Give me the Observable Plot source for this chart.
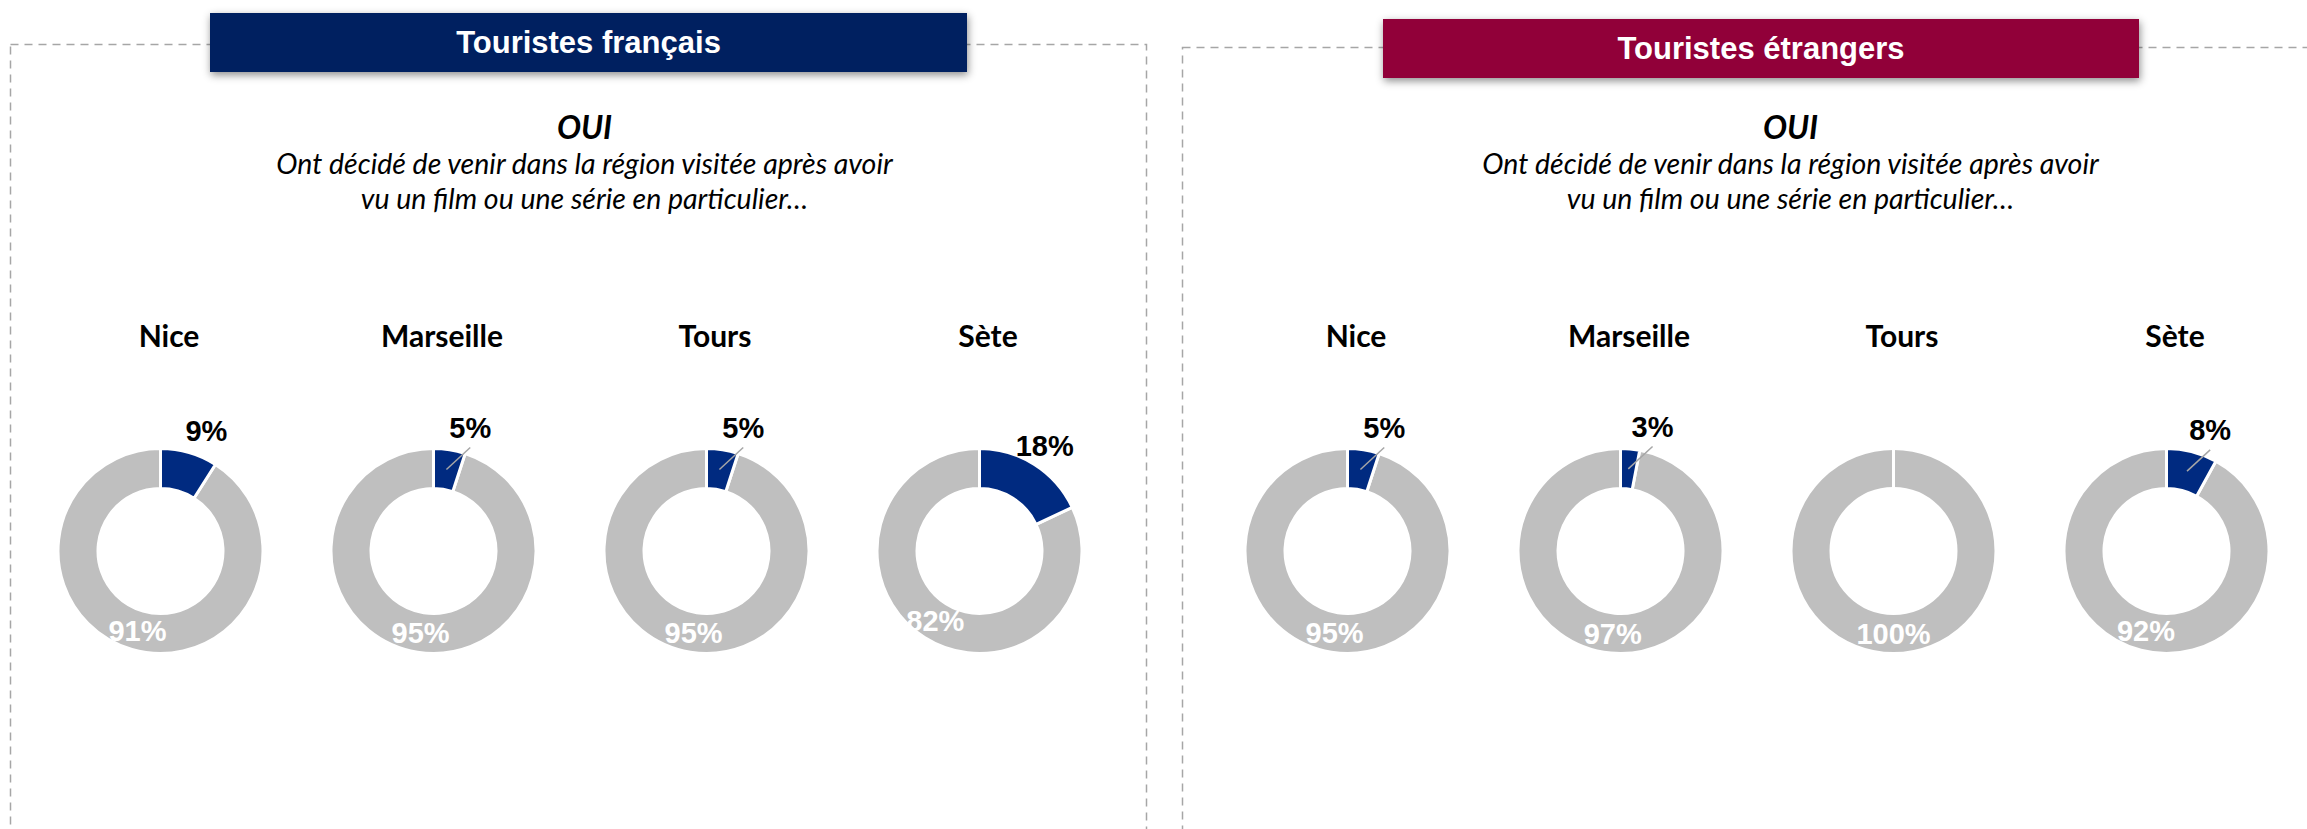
<!DOCTYPE html>
<html><head><meta charset="utf-8">
<script src="https://cdn.jsdelivr.net/npm/d3@7"></script>
<script src="https://cdn.jsdelivr.net/npm/@observablehq/plot@0.6"></script>
<style>
html,body{margin:0;padding:0;background:#fff;}
#chart{position:relative;width:2307px;height:829px;overflow:hidden;background:#fff;}
.panel{position:absolute;top:0;}
.panel svg{overflow:hidden;display:block;max-width:none;}
.head{position:absolute;height:59px;text-align:center;color:#fff;font:bold 31px "Liberation Sans",Arial,sans-serif;line-height:59px;box-shadow:1px 3px 8px rgba(0,0,0,0.45);}
</style></head><body>
<div id="chart">
  <div class="panel" id="p0" style="left:0"></div>
  <div class="panel" id="p1" style="left:1164px"></div>
  <div class="head" id="h0" style="left:210px;top:13px;width:757px;background:#002060"></div>
  <div class="head" id="h1" style="left:1383px;top:19px;width:756px;background:#910039"></div>
</div>
<script>
// ---- data ----
const panels = ["Touristes français", "Touristes étrangers"];
const cities = ["Nice", "Marseille", "Tours", "Sète"];
const ouiFrancais = [9, 5, 5, 18];
const nonFrancais = [91, 95, 95, 82];
const ouiEtrangers = [5, 3, 0, 8];
const nonEtrangers = [95, 97, 100, 92];
const heading = "OUI";
const subtitle = "Ont décidé de venir dans la région visitée après avoir\nvu un film ou une série en particulier…";

// ---- styles / layout ----
const colors = {oui: "#002A80", non: "#BFBFBF"};
const R_OUT = 102.5, R_IN = 62.5, R_MID = 82.5, R_LAB = 125;
const calibriLike = "Lato, 'Open Sans', sans-serif";
const arialLike = "'Liberation Sans', Arial, sans-serif";
const layout = [
  {width: 1164, marginLeft: 23, marginRight: 47, marginTop: 44, boxInsetLeft: -13, boxInsetRight: -29, textDx: 14, ouiDy: 84, subDy: 136, cityDy: 293, donutDy: 507},
  {width: 1143, marginLeft: 46, marginRight: 3, marginTop: 47, boxInsetLeft: -28, boxInsetRight: -20, textDx: 33, ouiDy: 81, subDy: 133, cityDy: 290, donutDy: 504}
];

function donutRender(rows, L) {
  return (index, scales, values, dimensions) => {
    const {width, marginLeft, marginRight, marginTop} = dimensions;
    const half = scales.x.bandwidth ? scales.x.bandwidth() / 2 : (width - marginLeft - marginRight) / cities.length / 2;
    const cy = marginTop + L.donutDy;
    const pie = d3.pie().sort(null).value(d => d.value);
    const arc = d3.arc().innerRadius(R_IN).outerRadius(R_OUT);
    const mid = d3.arc().innerRadius(R_MID).outerRadius(R_MID);
    const g = d3.create("svg:g");
    for (const i of index) {
      const row = rows[i];
      const cx = scales.x(row.city) + half;
      const arcs = pie([{key: "oui", value: row.oui}, {key: "non", value: row.non}]);
      const gg = g.append("g").attr("transform", `translate(${cx},${cy})`);
      // gray first, then blue (so a 0% slice shows as a white separator)
      for (const a of [arcs[1], arcs[0]]) {
        gg.append("path").attr("d", arc(a)).attr("fill", colors[a.data.key])
          .attr("stroke", "white").attr("stroke-width", 3);
      }
      const [gx, gy] = mid.centroid(arcs[1]);
      gg.append("text").attr("x", gx).attr("y", gy).attr("dy", "0.36em")
        .attr("text-anchor", "middle").attr("fill", "white")
        .attr("font-family", arialLike).attr("font-weight", "bold").attr("font-size", 29)
        .text(`${row.non}%`);
      if (row.oui > 0) {
        const m = (arcs[0].startAngle + arcs[0].endAngle) / 2;
        const lx = 0.6 * R_LAB * Math.sin(m) + 25, ly = -R_LAB * Math.cos(m);
        if (row.oui <= 8) {
          const [bx, by] = mid.centroid(arcs[0]);
          gg.append("line").attr("x1", bx).attr("y1", by).attr("x2", lx).attr("y2", ly + 20)
            .attr("stroke", "#A6A6A6").attr("stroke-width", 1.5);
        }
        gg.append("text").attr("x", lx).attr("y", ly).attr("dy", "0.36em")
          .attr("text-anchor", "middle").attr("fill", "black")
          .attr("font-family", arialLike).attr("font-weight", "bold").attr("font-size", 29)
          .text(`${row.oui}%`);
      }
    }
    return g.node();
  };
}

function panelPlot(p) {
  const L = layout[p];
  const oui = p === 0 ? ouiFrancais : ouiEtrangers;
  const non = p === 0 ? nonFrancais : nonEtrangers;
  const rows = cities.map((city, i) => ({city, oui: oui[i], non: non[i]}));
  return Plot.plot({
    width: L.width, height: 829,
    marginTop: L.marginTop, marginBottom: 0, marginLeft: L.marginLeft, marginRight: L.marginRight,
    x: {type: "band", domain: cities, padding: 0, axis: null},
    marks: [
      Plot.frame({stroke: "#A6A6A6", strokeWidth: 1.5, strokeDasharray: "8,6",
        insetLeft: L.boxInsetLeft, insetRight: L.boxInsetRight, insetBottom: -30}),
      Plot.text([heading], {frameAnchor: "top", lineAnchor: "middle", dx: L.textDx, dy: L.ouiDy, fontFamily: calibriLike,
        fontSize: 32, fontWeight: "bold", fontStyle: "italic", fill: "black"}),
      Plot.text([subtitle], {frameAnchor: "top", lineAnchor: "middle", dx: L.textDx, dy: L.subDy, fontFamily: calibriLike,
        fontSize: 28.5, fontStyle: "italic", lineHeight: 1.24, fill: "black"}),
      Plot.text(rows, {x: "city", text: "city", frameAnchor: "top", lineAnchor: "middle", dx: 8, dy: L.cityDy,
        fontFamily: calibriLike, fontSize: 30, fontWeight: "bold", fill: "black"}),
      Plot.dot(rows, {x: "city", render: donutRender(rows, L)})
    ]
  });
}

document.getElementById("p0").append(panelPlot(0));
document.getElementById("p1").append(panelPlot(1));
document.getElementById("h0").textContent = panels[0];
document.getElementById("h1").textContent = panels[1];
</script>
</body></html>
